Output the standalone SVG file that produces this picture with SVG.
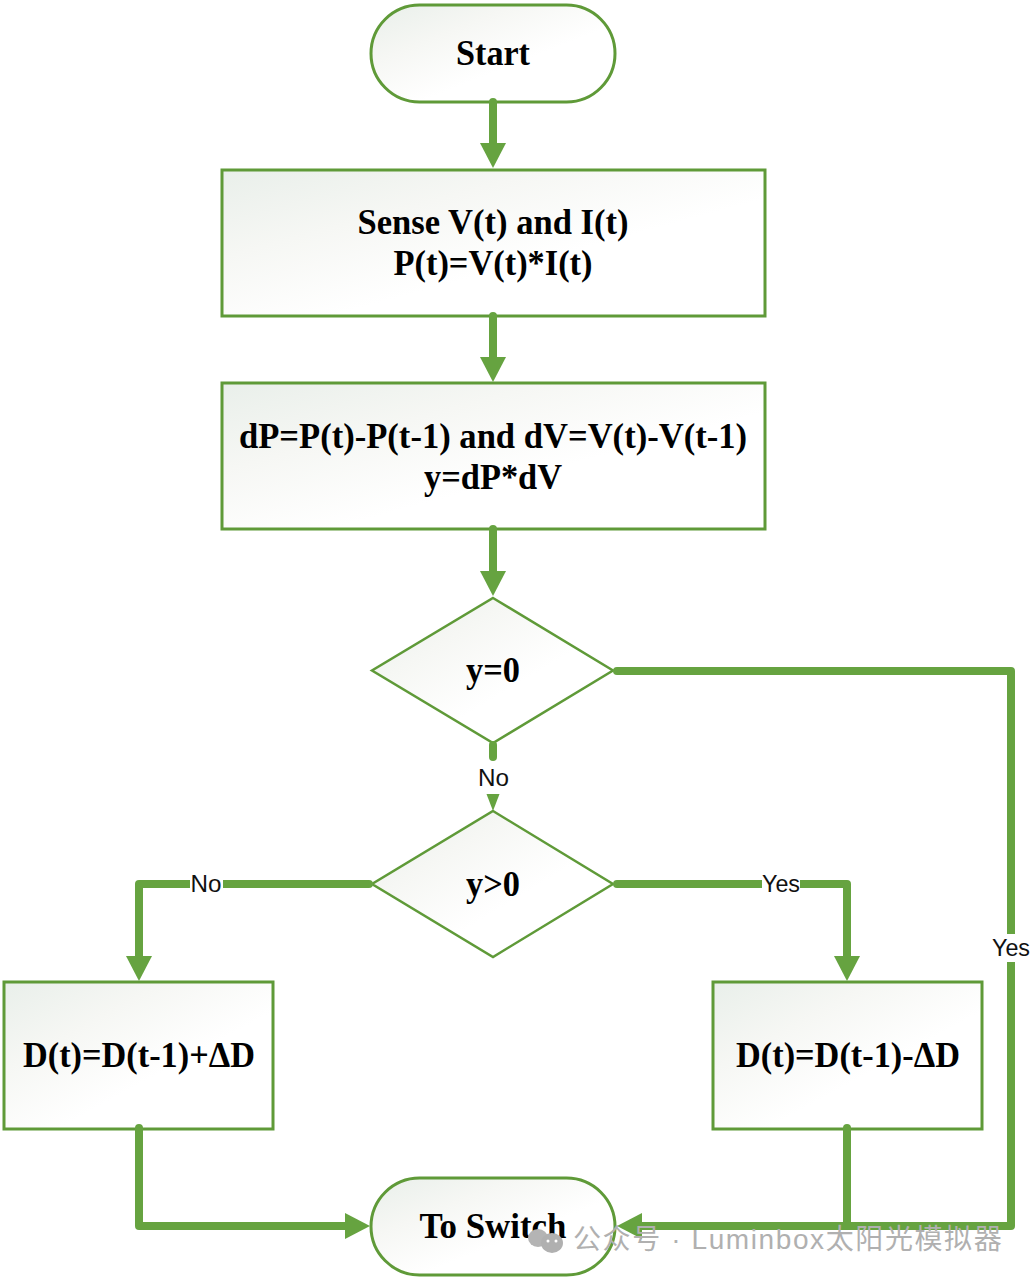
<svg xmlns="http://www.w3.org/2000/svg" width="1033" height="1280" viewBox="0 0 1033 1280">
<style>
.n{stroke:#5f9a38;stroke-width:3;fill:url(#g)}
.d{stroke-width:2.500}
.c{fill:none;stroke:#66a340;stroke-width:8;stroke-linejoin:round;stroke-linecap:round}
.t{font-family:"Liberation Serif",serif;font-weight:bold;font-size:35px;text-anchor:middle;fill:#000}
.l{font-family:"Liberation Sans",sans-serif;font-size:24px;text-anchor:middle;fill:#111}
.w{font-family:"Liberation Sans","Noto Sans CJK SC",sans-serif;font-size:28px;fill:#b0b0b0;letter-spacing:1.6px}
</style>
<defs>
<linearGradient id="g" x1="0" y1="0" x2="1" y2="1">
<stop offset="0" stop-color="#e9efea"/><stop offset="0.3" stop-color="#f6f7f4"/><stop offset="0.6" stop-color="#ffffff"/><stop offset="1" stop-color="#ffffff"/>
</linearGradient>
<marker id="a" markerUnits="userSpaceOnUse" markerWidth="26" markerHeight="26" refX="0" refY="13" orient="auto"><path d="M0 0L25 13L0 26Z" fill="#66a340"/></marker>
</defs>
<rect width="1033" height="1280" fill="#fff"/>
<g id="start"><rect class="n" x="371" y="5" width="244" height="97" rx="48.5"/><text class="t" x="493" y="64.500" textLength="74" lengthAdjust="spacingAndGlyphs">Start</text></g>
<g id="sense"><rect class="n" x="222" y="170" width="543" height="146"/><text class="t" x="493" y="233.500" textLength="271" lengthAdjust="spacingAndGlyphs">Sense V(t) and I(t)</text><text class="t" x="493" y="274.500" textLength="199" lengthAdjust="spacingAndGlyphs">P(t)=V(t)*I(t)</text></g>
<g id="diff"><rect class="n" x="222" y="383" width="543" height="146"/><text class="t" x="493" y="447.500" textLength="508" lengthAdjust="spacingAndGlyphs">dP=P(t)-P(t-1) and dV=V(t)-V(t-1)</text><text class="t" x="493" y="488.500" textLength="138" lengthAdjust="spacingAndGlyphs">y=dP*dV</text></g>
<g id="d1"><path class="n d" d="M493 598L613 670.500L493 743L372 670.500Z"/><text class="t" x="493" y="681.500" textLength="54" lengthAdjust="spacingAndGlyphs">y=0</text></g>
<g id="d2"><path class="n d" d="M493 811L613 884L493 957L372 884Z"/><text class="t" x="493" y="895.500" textLength="54" lengthAdjust="spacingAndGlyphs">y&gt;0</text></g>
<g id="dec"><rect class="n" x="4" y="982" width="269" height="147"/><text class="t" x="139" y="1066.500" textLength="232" lengthAdjust="spacingAndGlyphs">D(t)=D(t-1)+ΔD</text></g>
<g id="inc"><rect class="n" x="713" y="982" width="269" height="147"/><text class="t" x="848" y="1066.500" textLength="224" lengthAdjust="spacingAndGlyphs">D(t)=D(t-1)-ΔD</text></g>
<g id="end"><rect class="n" x="371" y="1178" width="244" height="97" rx="48.5"/><text class="t" x="493" y="1237.500" textLength="147" lengthAdjust="spacingAndGlyphs">To Switch</text></g>
<g id="connectors">
<path class="c" d="M493 102V143" marker-end="url(#a)"/>
<path class="c" d="M493 316V357" marker-end="url(#a)"/>
<path class="c" d="M493 529V571" marker-end="url(#a)"/>
<path class="c" d="M493 745V757"/>
<path d="M486.500 794H499.500L493 811Z" fill="#66a340"/>
<path class="c" d="M369 884H139V956" marker-end="url(#a)"/>
<path class="c" d="M617 884H847V956" marker-end="url(#a)"/>
<path class="c" d="M617 671H1011V1226H642" marker-end="url(#a)"/>
<path class="c" d="M847 1128V1226"/>
<path class="c" d="M139 1128V1226H345" marker-end="url(#a)"/>
</g>
<g id="labels">
<rect x="190" y="872" width="33" height="24" fill="#fff"/><text class="l" x="206" y="892" textLength="31" lengthAdjust="spacingAndGlyphs">No</text>
<text class="l" x="493.500" y="786" textLength="31" lengthAdjust="spacingAndGlyphs">No</text>
<rect x="762" y="872" width="38" height="24" fill="#fff"/><text class="l" x="781" y="892" textLength="38" lengthAdjust="spacingAndGlyphs">Yes</text>
<rect x="991" y="934" width="40" height="28" fill="#fff"/><text class="l" x="1011" y="956" textLength="38" lengthAdjust="spacingAndGlyphs">Yes</text>
</g>
<g id="watermark">
<ellipse cx="538" cy="1238" rx="10" ry="9" fill="#b4b4b4"/>
<ellipse cx="552" cy="1243" rx="11" ry="10" fill="#b0b0b0"/>
<circle cx="548" cy="1241" r="1.500" fill="#fff"/>
<circle cx="556" cy="1241" r="1.500" fill="#fff"/>
<text class="w" x="573" y="1249">公众号 · Luminbox太阳光模拟器</text>
</g>
</svg>
